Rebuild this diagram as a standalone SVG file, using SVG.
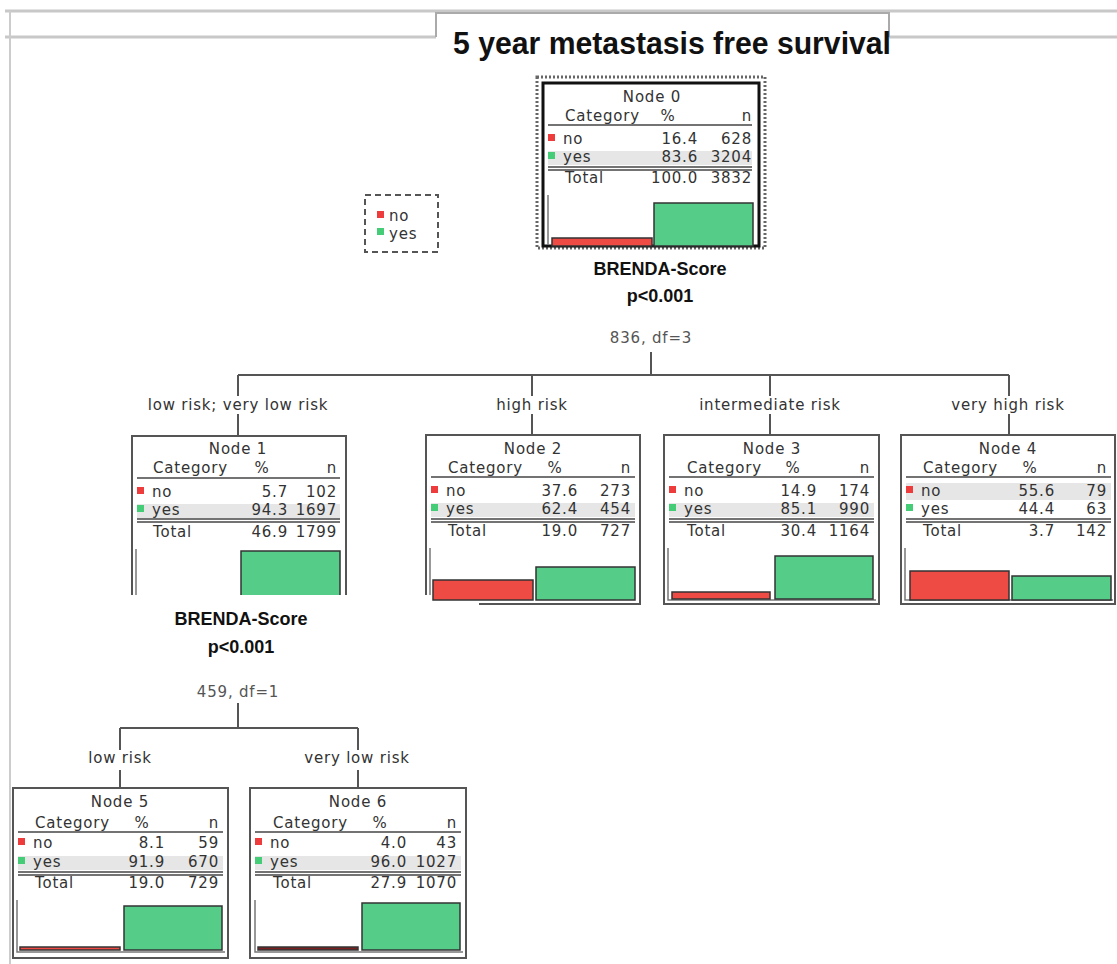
<svg xmlns="http://www.w3.org/2000/svg" width="1117" height="964" viewBox="0 0 1117 964">
<style>
.t{font-family:"DejaVu Sans",Verdana,sans-serif;font-size:15px;fill:#333;letter-spacing:0.8px}
.e{text-anchor:end}
.m{text-anchor:middle}
.b{font-family:"Liberation Sans",Arial,sans-serif;font-weight:bold;font-size:18px;fill:#111;text-anchor:middle}
.box{fill:#fff;stroke:#555;stroke-width:2}
.open{fill:none;stroke:#555;stroke-width:2}
.ln{stroke:#444;stroke-width:1.5}
.band{fill:#e6e6e6}
.red{fill:#ee4b45;stroke:#333;stroke-width:1.5}
.grn{fill:#55cc88;stroke:#333;stroke-width:1.5}
.sqr{fill:#ee3b3b}
.sqg{fill:#44cc77}
.conn{stroke:#555;stroke-width:2;fill:none}
.axis{stroke:#777;stroke-width:1.5;fill:none}
.frame{stroke:#c8c8c8;stroke-width:3;fill:none}
</style>
<rect width="1117" height="964" fill="#fff"/>
<g id="frame">
<path class="frame" d="M5,11 H1117"/>
<path class="frame" d="M5,37 H436 M889,37 H1117"/>
<path d="M436,37 V13 H889 V37" fill="none" stroke="#aaa" stroke-width="2"/>
<path d="M10,11 V964" fill="none" stroke="#ccc" stroke-width="2"/>
</g>
<text id="title" x="672" y="54" font-family="Liberation Sans,Arial,sans-serif" font-weight="bold" font-size="31" fill="#111" text-anchor="middle" textLength="438" lengthAdjust="spacingAndGlyphs">5 year metastasis free survival</text>

<g id="legend">
<rect x="365" y="195" width="73" height="57" fill="#fff" stroke="#555" stroke-width="2" stroke-dasharray="6,4"/>
<rect class="sqr" x="377" y="211" width="7" height="7"/>
<text class="t" x="389" y="221">no</text>
<rect class="sqg" x="377" y="228" width="7" height="7"/>
<text class="t" x="389" y="239">yes</text>
</g>

<g id="connectors">
<path class="conn" d="M651,352 V375 M238,375 H1009 M238,375 V396 M238,414 V436 M532,375 V396 M532,414 V435 M770,375 V396 M770,414 V435 M1009,375 V396 M1009,414 V435"/>
<path class="conn" d="M238,703 V728 M120,728 H358 M120,728 V750 M120,770 V788 M358,728 V750 M358,770 V788"/>
<text class="t m" x="651" y="343" style="fill:#555">836, df=3</text>
<text class="t m" x="238" y="410">low risk; very low risk</text>
<text class="t m" x="532" y="410">high risk</text>
<text class="t m" x="770" y="410">intermediate risk</text>
<text class="t m" x="1008" y="410">very high risk</text>
<text class="t m" x="238" y="697" style="fill:#555">459, df=1</text>
<text class="t m" x="120" y="763">low risk</text>
<text class="t m" x="357" y="763">very low risk</text>
</g>

<g id="node0" transform="translate(543,83)">
<rect x="-6" y="-6" width="228" height="171" fill="#fff" stroke="#666" stroke-width="3" stroke-dasharray="2,2"/>
<rect x="0" y="0" width="216" height="163" fill="#fff" stroke="#111" stroke-width="3"/>
<text class="t m" x="109" y="19">Node 0</text>
<text class="t" x="22" y="38">Category</text><text class="t m" x="125" y="38">%</text><text class="t e" x="209" y="38">n</text>
<line class="ln" x1="5" y1="42" x2="209" y2="42"/>
<rect class="band" x="5" y="68" width="204" height="14"/>
<rect class="sqr" x="5" y="51" width="7" height="7"/><text class="t" x="20" y="61">no</text>
<text class="t e" x="155" y="61">16.4</text><text class="t e" x="209" y="61">628</text>
<rect class="sqg" x="5" y="69" width="7" height="7"/><text class="t" x="20" y="79">yes</text>
<text class="t e" x="155" y="79">83.6</text><text class="t e" x="209" y="79">3204</text>
<line class="ln" x1="5" y1="84" x2="209" y2="84"/><line class="ln" x1="5" y1="87" x2="209" y2="87"/>
<text class="t" x="22" y="100">Total</text><text class="t e" x="155" y="100">100.0</text><text class="t e" x="209" y="100">3832</text>
<path class="axis" d="M5,112 V162"/>
<rect class="red" x="9" y="155" width="100" height="8"/>
<rect class="grn" x="111" y="120" width="99" height="43"/>
</g>

<g id="node1" transform="translate(132,436)">
<path class="open" d="M0,159 V0 H214 V159"/>
<text class="t m" x="106" y="18">Node 1</text>
<text class="t" x="21" y="37">Category</text><text class="t m" x="130" y="37">%</text><text class="t e" x="205" y="37">n</text>
<line class="ln" x1="5" y1="42" x2="208" y2="42"/>
<rect class="band" x="5" y="68" width="203" height="14"/>
<rect class="sqr" x="5" y="51" width="7" height="7"/><text class="t" x="20" y="61">no</text>
<text class="t e" x="156" y="61">5.7</text><text class="t e" x="205" y="61">102</text>
<rect class="sqg" x="5" y="69" width="7" height="7"/><text class="t" x="20" y="79">yes</text>
<text class="t e" x="156" y="79">94.3</text><text class="t e" x="205" y="79">1697</text>
<line class="ln" x1="5" y1="83" x2="208" y2="83"/><line class="ln" x1="5" y1="86" x2="208" y2="86"/>
<text class="t" x="21" y="101">Total</text><text class="t e" x="156" y="101">46.9</text><text class="t e" x="205" y="101">1799</text>
<path class="axis" d="M4,113 V159"/>
<rect x="109" y="115" width="99" height="44" fill="#55cc88"/>
<path d="M109,159 V115 H208 V159" fill="none" stroke="#333" stroke-width="1.5"/>
</g>
<text class="b" x="241" y="625">BRENDA-Score</text>
<text class="b" x="241" y="653">p&lt;0.001</text>
<text class="b" x="660" y="275">BRENDA-Score</text>
<text class="b" x="660" y="302">p&lt;0.001</text>

<g id="node2" transform="translate(426,435)">
<rect x="0" y="0" width="214" height="161" fill="#fff"/>
<path class="open" d="M0,160 V0 H214 V169 H53"/>
<text class="t m" x="107" y="19">Node 2</text>
<text class="t" x="22" y="38">Category</text><text class="t m" x="129" y="38">%</text><text class="t e" x="205" y="38">n</text>
<line class="ln" x1="5" y1="42" x2="209" y2="42"/>
<rect class="band" x="5" y="68" width="204" height="14"/>
<rect class="sqr" x="5" y="51" width="7" height="7"/><text class="t" x="20" y="61">no</text>
<text class="t e" x="152" y="61">37.6</text><text class="t e" x="205" y="61">273</text>
<rect class="sqg" x="5" y="69" width="7" height="7"/><text class="t" x="20" y="79">yes</text>
<text class="t e" x="152" y="79">62.4</text><text class="t e" x="205" y="79">454</text>
<line class="ln" x1="5" y1="84" x2="209" y2="84"/><line class="ln" x1="5" y1="87" x2="209" y2="87"/>
<text class="t" x="22" y="101">Total</text><text class="t e" x="152" y="101">19.0</text><text class="t e" x="205" y="101">727</text>
<path class="axis" d="M4,113 V160"/>
<rect class="red" x="7" y="145" width="100" height="20"/>
<rect class="grn" x="110" y="132" width="99" height="33"/>
</g>

<g id="node3" transform="translate(664,435)">
<rect class="box" x="0" y="0" width="215" height="169"/>
<text class="t m" x="108" y="19">Node 3</text>
<text class="t" x="23" y="38">Category</text><text class="t m" x="129" y="38">%</text><text class="t e" x="206" y="38">n</text>
<line class="ln" x1="5" y1="42" x2="210" y2="42"/>
<rect class="band" x="5" y="68" width="205" height="14"/>
<rect class="sqr" x="5" y="51" width="7" height="7"/><text class="t" x="20" y="61">no</text>
<text class="t e" x="153" y="61">14.9</text><text class="t e" x="206" y="61">174</text>
<rect class="sqg" x="5" y="69" width="7" height="7"/><text class="t" x="20" y="79">yes</text>
<text class="t e" x="153" y="79">85.1</text><text class="t e" x="206" y="79">990</text>
<line class="ln" x1="5" y1="84" x2="210" y2="84"/><line class="ln" x1="5" y1="87" x2="210" y2="87"/>
<text class="t" x="23" y="101">Total</text><text class="t e" x="153" y="101">30.4</text><text class="t e" x="206" y="101">1164</text>
<path class="axis" d="M4,113 V165 H212"/>
<rect class="red" x="8" y="157" width="98" height="7"/>
<rect class="grn" x="111" y="121" width="98" height="43"/>
</g>

<g id="node4" transform="translate(901,435)">
<rect class="box" x="0" y="0" width="214" height="169"/>
<text class="t m" x="107" y="19">Node 4</text>
<text class="t" x="22" y="38">Category</text><text class="t m" x="129" y="38">%</text><text class="t e" x="206" y="38">n</text>
<line class="ln" x1="5" y1="42" x2="210" y2="42"/>
<rect class="band" x="5" y="48" width="205" height="17"/>
<rect class="sqr" x="5" y="51" width="7" height="7"/><text class="t" x="20" y="61">no</text>
<text class="t e" x="154" y="61">55.6</text><text class="t e" x="206" y="61">79</text>
<rect class="sqg" x="5" y="69" width="7" height="7"/><text class="t" x="20" y="79">yes</text>
<text class="t e" x="154" y="79">44.4</text><text class="t e" x="206" y="79">63</text>
<line class="ln" x1="5" y1="84" x2="210" y2="84"/><line class="ln" x1="5" y1="87" x2="210" y2="87"/>
<text class="t" x="22" y="101">Total</text><text class="t e" x="154" y="101">3.7</text><text class="t e" x="206" y="101">142</text>
<path class="axis" d="M4,113 V165 H212"/>
<rect class="red" x="9" y="136" width="99" height="29"/>
<rect class="grn" x="111" y="141" width="99" height="24"/>
</g>

<g id="node5" transform="translate(13,788)">
<rect class="box" x="0" y="0" width="215" height="170"/>
<text class="t m" x="107" y="19">Node 5</text>
<text class="t" x="22" y="40">Category</text><text class="t m" x="129" y="40">%</text><text class="t e" x="206" y="40">n</text>
<line class="ln" x1="5" y1="44" x2="210" y2="44"/>
<rect class="band" x="5" y="68" width="205" height="14"/>
<rect class="sqr" x="5" y="50" width="7" height="7"/><text class="t" x="20" y="60">no</text>
<text class="t e" x="152" y="60">8.1</text><text class="t e" x="206" y="60">59</text>
<rect class="sqg" x="5" y="69" width="7" height="7"/><text class="t" x="20" y="79">yes</text>
<text class="t e" x="152" y="79">91.9</text><text class="t e" x="206" y="79">670</text>
<line class="ln" x1="5" y1="84" x2="210" y2="84"/><line class="ln" x1="5" y1="87" x2="210" y2="87"/>
<text class="t" x="22" y="100">Total</text><text class="t e" x="152" y="100">19.0</text><text class="t e" x="206" y="100">729</text>
<path class="axis" d="M4,112 V164 H212"/>
<rect class="red" x="7" y="159" width="100" height="3"/>
<rect class="grn" x="111" y="118" width="98" height="44"/>
</g>

<g id="node6" transform="translate(250,788)">
<rect class="box" x="0" y="0" width="216" height="170"/>
<text class="t m" x="108" y="19">Node 6</text>
<text class="t" x="23" y="40">Category</text><text class="t m" x="130" y="40">%</text><text class="t e" x="207" y="40">n</text>
<line class="ln" x1="5" y1="44" x2="211" y2="44"/>
<rect class="band" x="5" y="68" width="206" height="14"/>
<rect class="sqr" x="5" y="50" width="7" height="7"/><text class="t" x="20" y="60">no</text>
<text class="t e" x="157" y="60">4.0</text><text class="t e" x="207" y="60">43</text>
<rect class="sqg" x="5" y="69" width="7" height="7"/><text class="t" x="20" y="79">yes</text>
<text class="t e" x="157" y="79">96.0</text><text class="t e" x="207" y="79">1027</text>
<line class="ln" x1="5" y1="84" x2="211" y2="84"/><line class="ln" x1="5" y1="87" x2="211" y2="87"/>
<text class="t" x="23" y="100">Total</text><text class="t e" x="157" y="100">27.9</text><text class="t e" x="207" y="100">1070</text>
<path class="axis" d="M5,112 V164 H213"/>
<rect x="8" y="159" width="100" height="3" fill="#7a2020" stroke="#333" stroke-width="1.5"/>
<rect class="grn" x="112" y="115" width="98" height="47"/>
</g>
</svg>
